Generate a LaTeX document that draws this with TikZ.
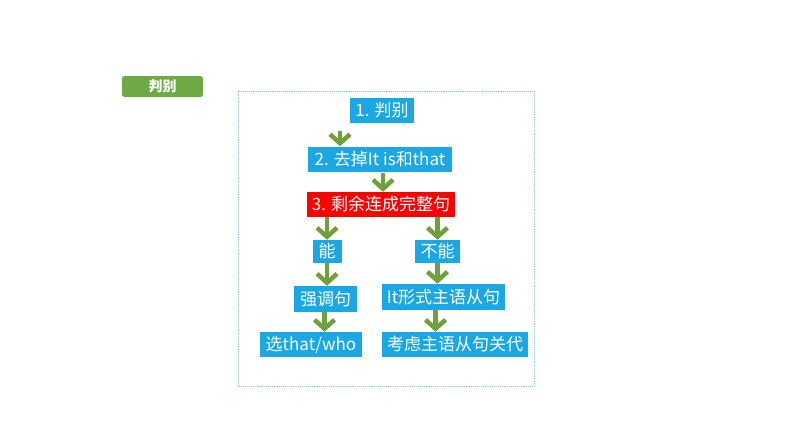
\documentclass[tikz,border=0pt]{standalone}
\usepackage{fontspec}
\setmainfont{Noto Sans CJK SC}
\usetikzlibrary{arrows.meta,calc}
\definecolor{boxblue}{HTML}{1AA7E4}
\definecolor{boxred}{HTML}{FF0000}
\definecolor{arrgreen}{HTML}{6FA03C}
\definecolor{labgreen}{HTML}{6DAA45}
\definecolor{framecol}{HTML}{8FC4D4}
\tikzset{
  bluebox/.style={fill=boxblue, text=white, font=\fontsize{17}{19}\selectfont, inner sep=0pt, minimum height=25pt, anchor=center},
  redbox/.style={bluebox, fill=boxred},
  garrow/.style={draw=arrgreen, line width=4.5pt, -{Straight Barb[length=9pt,width=20pt,line width=4.5pt]}},
}
\begin{document}
\begin{tikzpicture}[x=1pt,y=-1pt]
\useasboundingbox (0,0) rectangle (794,447);
\fill[white] (0,0) rectangle (794,447);
% label
\node[fill=labgreen, rounded corners=2.5pt, minimum width=81pt, minimum height=21pt, inner sep=0pt, text=white, font=\fontsize{14}{16}\bfseries\selectfont] (lab) at (162.5,86.5) {判别};
% frame
\draw[framecol, densely dotted, line width=0.9pt] (238,91) rectangle (534,386);
% nodes
\node[bluebox, minimum width=64pt] (n1) at (382,110) {1. 判别};
\node[bluebox, minimum width=144pt] (n2) at (380,159) {2. 去掉It is和that};
\node[redbox, minimum width=148pt] (n3) at (381,204.5) {3. 剩余连成完整句};
\node[bluebox, minimum width=29pt, minimum height=23pt] (neng) at (327,251.5) {能};
\node[bluebox, minimum width=45pt, minimum height=23pt] (buneng) at (437.5,251.5) {不能};
\node[bluebox, minimum width=63pt, minimum height=26pt] (qiang) at (325.5,299) {强调句};
\node[bluebox, minimum width=123pt, minimum height=26pt] (itxs) at (443.5,297) {It形式主语从句};
\node[bluebox, minimum width=102pt, minimum height=25pt] (xuan) at (311,344.5) {选that/who};
\node[bluebox, minimum width=146pt, minimum height=25pt] (kaolv) at (455,344.5) {考虑主语从句关代};
% arrows
\coordinate (a1s) at ($(n1.south)+(-42,8)$);
\coordinate (a2s) at ($(n2.south)+(3,1)$);
\draw[garrow] (a1s) -- (a1s |- n2.north);
\draw[garrow] (a2s) -- (a2s |- n3.north);
\draw[garrow] (n3.south -| neng.north) -- (neng.north);
\draw[garrow] (n3.south -| buneng.north) -- (buneng.north);
\draw[garrow] (neng.south) -- (neng.south |- qiang.north);
\draw[garrow] (buneng.south) -- (buneng.south |- itxs.north);
\draw[garrow] ($(qiang.south)+(-1,0)$) -- ($(qiang.south |- xuan.north)+(-1,0)$);
\draw[garrow] ($(itxs.south)+(-8,0)$) -- ($(itxs.south |- kaolv.north)+(-8,0)$);
\end{tikzpicture}
\end{document}
